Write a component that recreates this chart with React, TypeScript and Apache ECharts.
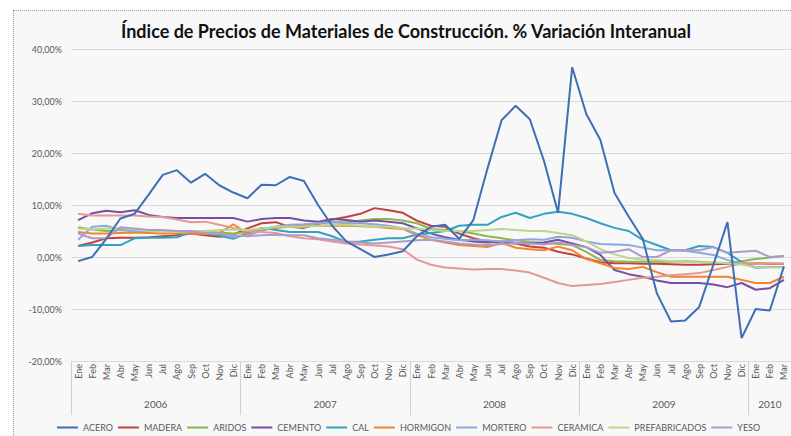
import React, { useEffect, useRef } from "react";
import * as echarts from "echarts";

const MONTHS = ["Ene", "Feb", "Mar", "Abr", "May", "Jun", "Jul", "Ago", "Sep", "Oct", "Nov", "Dic"];
const YEARS = ["2006", "2007", "2008", "2009", "2010"];
const YEAR_MONTHS = [12, 12, 12, 12, 3];

const SERIES_NAMES = ["ACERO", "MADERA", "ARIDOS", "CEMENTO", "CAL", "HORMIGON", "MORTERO", "CERAMICA", "PREFABRICADOS", "YESO"];
const COLORS = ["#3c6fb6", "#c0413d", "#8fb64c", "#7650a0", "#2fa3c0", "#f5832a", "#8fa8dc", "#e59893", "#b9d68e", "#ad9ccb"];

const ACERO = [
  -0.8, 0.0, 3.5, 7.4, 8.3, 12.0, 15.8, 16.7, 14.3, 16.0, 13.8, 12.4,
  11.3, 13.9, 13.8, 15.4, 14.6, 10.0, 6.0, 3.0, 1.5, 0.0, 0.5, 1.1,
  4.0, 5.8, 6.2, 3.5, 7.1, 17.0, 26.3, 29.1, 26.5, 18.5, 8.5, 36.5,
  27.5, 22.5, 12.3, 7.8, 3.5, -7.0, -12.4, -12.2, -9.6, -1.5, 6.7, -15.6,
  -10.0, -10.3, -1.8,
];
const MADERA = [
  2.1, 2.8, 3.6, 3.7, 3.7, 3.8, 4.0, 4.2, 4.5, 4.2, 3.9, 4.3,
  5.5, 6.5, 6.7, 5.8, 5.6, 6.3, 7.2, 7.7, 8.3, 9.4, 9.0, 8.5,
  7.0, 6.0, 5.8, 4.5, 3.6, 3.0, 2.8, 2.6, 2.0, 1.8, 1.0, 0.5,
  -0.3, -1.0, -1.2, -1.2, -1.3, -1.3, -1.4, -1.5, -1.5, -1.4, -1.3, -1.3,
  -1.2, -1.3, -1.3,
];
const ARIDOS = [
  5.7, 5.3, 5.0, 5.2, 5.0, 5.0, 4.8, 4.8, 4.7, 4.8, 4.7, 4.5,
  4.8, 5.2, 5.8, 6.0, 6.2, 6.5, 6.7, 6.7, 7.0, 7.3, 7.3, 7.0,
  6.5, 5.4, 5.2, 5.0, 4.5, 4.0, 3.6, 3.2, 2.9, 2.7, 2.5, 2.3,
  1.0, -0.6, -0.8, -0.9, -0.9, -0.9, -0.9, -0.8, -0.9, -1.1, -1.2, -0.8,
  -0.4, -0.1, 0.2,
];
const CEMENTO = [
  7.1, 8.4, 8.9, 8.6, 9.0, 8.1, 7.7, 7.5, 7.5, 7.5, 7.5, 7.5,
  6.8, 7.3, 7.5, 7.5, 7.0, 6.8, 7.3, 7.1, 6.8, 7.0, 6.8, 6.5,
  5.5, 4.5, 3.8, 3.3, 3.0, 2.8, 3.0, 2.7, 2.6, 2.8, 3.3, 2.6,
  1.9, 0.4, -2.5, -3.3, -3.8, -4.5, -5.0, -5.0, -5.0, -5.3, -5.8, -5.0,
  -6.3, -6.0, -4.4,
];
const CAL = [
  2.1, 2.3, 2.3, 2.3, 3.6, 3.7, 3.7, 3.8, 4.8, 4.5, 4.1, 3.5,
  4.6, 5.6, 5.2, 4.8, 4.8, 4.8, 4.0, 2.9, 3.0, 3.3, 3.6, 3.6,
  4.3, 4.6, 5.0, 6.0, 6.2, 6.2, 7.7, 8.5, 7.5, 8.3, 8.7, 8.3,
  7.5, 6.5, 5.6, 5.0, 3.3, 2.3, 1.3, 1.3, 2.1, 1.9, 0.8, -1.0,
  -2.0, -1.9, -1.9,
];
const HORMIGON = [
  4.8, 4.5, 4.5, 4.6, 4.7, 4.6, 4.5, 4.6, 4.5, 4.4, 4.6, 6.3,
  4.5, 5.5, 5.6, 5.8, 5.9, 6.0, 6.0, 6.0, 5.9, 5.8, 5.6, 5.4,
  4.2, 3.3, 2.8, 2.3, 2.1, 1.9, 2.7, 1.8, 1.5, 1.3, 2.0, 1.3,
  -0.4, -1.2, -2.1, -2.3, -1.9, -2.9, -3.8, -3.8, -3.8, -3.8, -3.8, -4.4,
  -5.0, -5.0, -3.8,
];
const MORTERO = [
  3.3, 5.8, 6.0, 5.2, 5.0, 5.0, 5.0, 4.8, 4.8, 4.8, 4.5, 3.8,
  4.2, 5.0, 5.8, 6.2, 6.3, 6.5, 6.7, 6.5, 6.5, 6.3, 6.0, 5.5,
  4.5, 3.8, 3.5, 3.2, 3.3, 3.2, 3.0, 3.2, 3.4, 3.3, 3.9, 3.7,
  3.0, 2.5, 2.4, 2.3, 1.8, 1.3, 1.3, 1.2, 0.8, 0.4, -0.6, -1.2,
  -2.1, -1.9, -1.9,
];
const CERAMICA = [
  8.3, 8.0, 8.0, 8.0, 8.0, 7.8, 7.7, 7.2, 6.7, 6.8, 6.2, 5.6,
  5.0, 4.8, 4.6, 4.0, 3.6, 3.4, 3.0, 2.6, 2.4, 2.2, 2.0, 1.5,
  -0.5, -1.5, -2.0, -2.2, -2.4, -2.3, -2.3, -2.6, -3.0, -4.0, -5.0, -5.6,
  -5.4, -5.2, -4.8, -4.4, -4.0, -3.8, -3.5, -3.3, -3.1, -2.5, -1.9, -1.2,
  -1.2, -1.2, -1.3,
];
const PREFABRICADOS = [
  5.5, 5.3, 5.5, 5.6, 5.3, 5.0, 4.8, 4.8, 5.0, 5.0, 5.2, 5.3,
  5.2, 5.5, 5.8, 5.8, 5.8, 6.0, 6.2, 6.2, 6.0, 5.8, 5.8, 5.5,
  5.5, 5.2, 5.0, 5.0, 5.0, 5.2, 5.4, 5.2, 5.0, 5.0, 4.6, 4.2,
  3.0, 1.5, 0.5, -0.2, -0.5, -0.6, -0.8, -0.9, -1.0, -1.0, -1.2, -1.5,
  -1.9, -2.0, -2.0,
];
const YESO = [
  4.5, 3.6, 3.6, 5.7, 5.5, 5.2, 5.2, 5.0, 5.0, 4.6, 4.4, 4.2,
  4.0, 4.2, 4.3, 4.2, 4.2, 3.6, 3.3, 3.0, 2.8, 2.6, 2.8, 3.0,
  3.2, 3.3, 3.0, 2.6, 2.4, 2.3, 2.5, 2.7, 2.6, 2.4, 2.8, 2.3,
  1.9, 0.8, 1.0, 1.5, 0.0, 0.0, 1.3, 1.3, 1.3, 1.9, 0.8, 1.0,
  1.2, 0.0, 0.2,
];
const SERIES_DATA = [ACERO, MADERA, ARIDOS, CEMENTO, CAL, HORMIGON, MORTERO, CERAMICA, PREFABRICADOS, YESO];

const Y_MIN = -20;
const Y_MAX = 40;
const Y_STEP = 10;

const TITLE = "Índice de Precios de Materiales de Construcción. % Variación Interanual";

export default function App() {
  const ref = useRef<HTMLDivElement>(null);

  useEffect(() => {
    if (!ref.current) return;
    const chart = echarts.init(ref.current, null, { renderer: "svg" });

    const monthCats: string[] = [];
    YEARS.forEach((y, yi) => {
      for (let m = 0; m < YEAR_MONTHS[yi]; m++) monthCats.push(MONTHS[m]);
    });
    const n = monthCats.length;
    const yearCats: string[] = new Array(2 * n + 1).fill("");
    const boundaries = new Set<number>();
    let start = 0;
    YEARS.forEach((y, yi) => {
      boundaries.add(start * 2);
      yearCats[start * 2 + YEAR_MONTHS[yi]] = y;
      start += YEAR_MONTHS[yi];
    });
    boundaries.add(start * 2);

    const gray = "#595959";
    const font = "Lato, 'Open Sans', sans-serif";

    chart.setOption({
      animation: false,
      textStyle: { fontFamily: font },
      title: {
        text: TITLE,
        left: 116,
        top: 17,
        textStyle: { fontFamily: font, fontSize: 18, fontWeight: "bold", color: "#111" },
      },
      grid: { left: 71, right: 0, top: 49, bottom: 75, containLabel: false },
      legend: {
        left: 57,
        top: 423,
        width: 730,
        padding: 0,
        icon: "rect",
        itemWidth: 21,
        itemHeight: 2,
        itemGap: 5,
        textStyle: { fontSize: 9, color: gray, fontFamily: font, padding: [0, 0, 0, 0] },
        data: SERIES_NAMES,
      },
      xAxis: [
        {
          type: "category",
          data: monthCats,
          boundaryGap: true,
          position: "bottom",
          axisLine: { show: true, onZero: false, lineStyle: { color: "#d9d9d9" } },
          axisTick: { show: false },
          axisLabel: { interval: 0, rotate: 90, fontSize: 9, color: gray, margin: 3, fontFamily: font },
          splitLine: { show: false },
        },
        {
          type: "category",
          data: yearCats,
          boundaryGap: false,
          position: "bottom",
          axisLine: { show: false, onZero: false },
          axisTick: {
            show: true,
            length: 54,
            interval: (i: number) => boundaries.has(i),
            lineStyle: { color: "#d0d0d0" },
          },
          axisLabel: {
            interval: (i: number, v: string) => v !== "",
            fontSize: 10,
            color: gray,
            margin: 38,
            fontFamily: font,
          },
          splitLine: { show: false },
        },
      ],
      yAxis: {
        type: "value",
        min: Y_MIN,
        max: Y_MAX,
        interval: Y_STEP,
        axisLine: { show: false },
        axisTick: { show: false },
        axisLabel: {
          fontSize: 9,
          color: gray,
          margin: 9,
          fontFamily: font,
          formatter: (v: number) => v.toFixed(2).replace(".", ",") + "%",
        },
        splitLine: { lineStyle: { color: "#d9d9d9", width: 1 } },
      },
      series: SERIES_NAMES.map((name, i) => ({
        name,
        type: "line",
        xAxisIndex: 0,
        data: SERIES_DATA[i],
        symbol: "none",
        color: COLORS[i],
        lineStyle: { width: 2, color: COLORS[i] },
        z: i === 0 ? 3 : 2,
      })),
    });

    return () => chart.dispose();
  }, []);

  return (
    <div style={{ position: "fixed", left: 0, top: 0, width: 791, height: 436, background: "#ffffff", overflow: "hidden" }}>
      <div
        style={{
          position: "absolute",
          left: 13,
          top: 10,
          width: 800,
          height: 450,
          border: "1px dotted #9a9a9a",
          background: "#f8f8f8",
        }}
      />
      <div ref={ref} style={{ position: "absolute", left: 0, top: 0, width: 791, height: 436 }} />
    </div>
  );
}
